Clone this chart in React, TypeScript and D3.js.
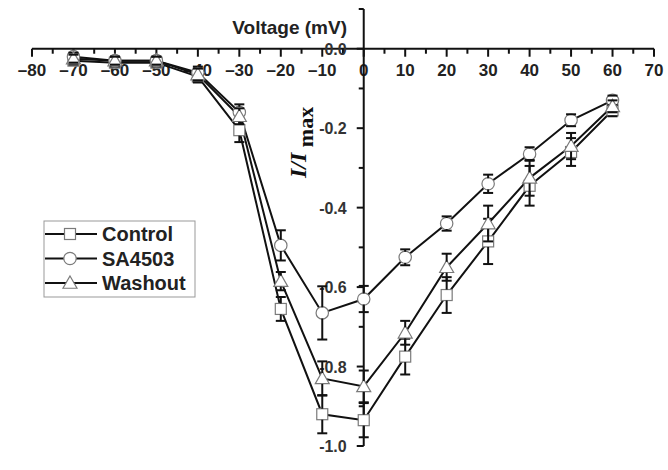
import React from "react";
import * as d3 from "d3";

const voltages = [-70, -60, -50, -40, -30, -20, -10, 0, 10, 20, 30, 40, 50, 60];
const controlVals = [-0.03, -0.035, -0.035, -0.07, -0.205, -0.655, -0.92, -0.935, -0.775, -0.62, -0.485, -0.345, -0.26, -0.155];
const sa4503Vals = [-0.02, -0.03, -0.03, -0.06, -0.16, -0.495, -0.665, -0.63, -0.525, -0.44, -0.34, -0.265, -0.18, -0.13];
const washoutVals = [-0.025, -0.03, -0.03, -0.065, -0.17, -0.585, -0.83, -0.85, -0.715, -0.55, -0.44, -0.325, -0.245, -0.145];
const controlErr = [0.01, 0.01, 0.01, 0.015, 0.03, 0.03, 0.048, 0.043, 0.045, 0.045, 0.057, 0.05, 0.035, 0.015];
const sa4503Err = [0.01, 0.01, 0.01, 0.015, 0.02, 0.038, 0.067, 0.033, 0.02, 0.018, 0.023, 0.017, 0.015, 0.012];
const washoutErr = [0.01, 0.01, 0.01, 0.015, 0.02, 0.023, 0.043, 0.04, 0.03, 0.034, 0.045, 0.045, 0.033, 0.015];
const seriesNames = ["Control", "SA4503", "Washout"];
const xTickLabels = [-80, -70, -60, -50, -40, -30, -20, -10, 0, 10, 20, 30, 40, 50, 60, 70];
const yTickLabels = [0, -0.2, -0.4, -0.6, -0.8, -1.0];

const W = 668, H = 470;
const x = d3.scaleLinear().domain([-80, 70]).range([32, 654]);
const y = d3.scaleLinear().domain([0.1, -1.0]).range([9, 446]);

const sans = "'Liberation Sans', Arial, sans-serif";
const HALF = 5.5;

function Marker({ kind, cx, cy }: { kind: string; cx: number; cy: number }) {
  const st = { fill: "#fff", stroke: "#7a7a7a", strokeWidth: 1.2 };
  if (kind === "square") return <rect x={cx - 5.5} y={cy - 5.5} width={11} height={11} {...st} />;
  if (kind === "circle") return <circle cx={cx} cy={cy} r={6.2} {...st} />;
  const s = 7;
  return <path d={`M${cx},${cy - s}L${cx + s},${cy + s * 0.75}L${cx - s},${cy + s * 0.75}Z`} {...st} />;
}

export default function App() {
  const series = [
    { name: seriesNames[0], vals: controlVals, err: controlErr, kind: "square" },
    { name: seriesNames[1], vals: sa4503Vals, err: sa4503Err, kind: "circle" },
    { name: seriesNames[2], vals: washoutVals, err: washoutErr, kind: "triangle" },
  ];
  const line = d3.line<number>().x((_, i) => x(voltages[i])).y((d) => y(d));
  const y0 = y(0);
  const x0 = x(0);
  const minorX = d3.range(-80, 71, 5);
  const minorY = d3.range(0.1, -1.01, -0.1).map((v) => Math.round(v * 10) / 10);

  return (
    <svg width={W} height={H} style={{ position: "absolute", left: 0, top: 0, background: "#fff" }}>
      {/* X axis */}
      <line x1={x(-80)} x2={x(70)} y1={y0} y2={y0} stroke="#111" strokeWidth={2} />
      {minorX.map((v) => (
        <line key={"xt" + v} x1={x(v)} x2={x(v)} y1={y0} y2={y0 + (v % 10 === 0 ? 8 : 5)} stroke="#111" strokeWidth={2} />
      ))}
      {xTickLabels.map((v) => (
        <text key={"xl" + v} x={x(v)} y={y0 + 27} textAnchor="middle" fontFamily={sans} fontWeight="bold" fontSize={17} fill="#222">
          {v < 0 ? "\u2013" + Math.abs(v) : String(v)}
        </text>
      ))}
      <text x={347} y={34} textAnchor="end" fontFamily={sans} fontWeight="bold" fontSize={19} fill="#222">Voltage (mV)</text>

      {/* Y axis */}
      <line x1={x0} x2={x0} y1={y(0.1)} y2={y(-1.0)} stroke="#111" strokeWidth={2} />
      {minorY.map((v) => {
        const major = Math.abs(Math.round(v * 10)) % 2 === 0;
        return <line key={"yt" + v} x1={x0} x2={x0 - (major ? 7 : 5)} y1={y(v)} y2={y(v)} stroke="#111" strokeWidth={2} />;
      })}
      {yTickLabels.map((v) => (
        <text key={"yl" + v} x={x0 - 17} y={y(v) + 6} textAnchor="end" fontFamily={sans} fontWeight="bold" fontSize={16} fill="#333">
          {v === 0 ? "0.0" : "-" + Math.abs(v).toFixed(1)}
        </text>
      ))}
      <text transform={`translate(306,178) rotate(-90)`} fontFamily="'Liberation Serif', 'DejaVu Serif', serif" fontWeight="bold" fontSize={24} fill="#111">
        <tspan fontStyle="italic">I/I</tspan>
        <tspan dy={7} fontSize={22}> max</tspan>
      </text>

      {/* Lines */}
      {series.map((s) => (
        <path key={"ln" + s.name} d={line(s.vals) || ""} fill="none" stroke="#111" strokeWidth={2} />
      ))}
      {/* Markers + error bars, series by series */}
      {series.map((s) => (
        <g key={"ser" + s.name}>
          {s.vals.map((v, i) => <Marker key={"mk" + i} kind={s.kind} cx={x(voltages[i])} cy={y(v)} />)}
          {s.vals.map((v, i) => {
            const cx = x(voltages[i]);
            const cy = y(v);
            const t = y(v + s.err[i]);
            const b = y(v - s.err[i]);
            return (
              <g key={"eb" + i} stroke="#111" strokeWidth={2}>
                {t < cy - HALF && <line x1={cx} x2={cx} y1={t} y2={cy - HALF} />}
                {b > cy + HALF && <line x1={cx} x2={cx} y1={cy + HALF} y2={b} />}
                <line x1={cx - 5} x2={cx + 5} y1={t} y2={t} />
                <line x1={cx - 5} x2={cx + 5} y1={b} y2={b} />
              </g>
            );
          })}
        </g>
      ))}

      {/* Legend */}
      <rect x={44} y={221} width={151} height={76} fill="#fff" stroke="#999" strokeWidth={1} />
      {series.map((s, i) => {
        const ly = 234 + i * 24.5;
        return (
          <g key={"lg" + s.name}>
            <line x1={45} x2={97} y1={ly} y2={ly} stroke="#111" strokeWidth={2} />
            <Marker kind={s.kind} cx={70} cy={ly} />
            <text x={102} y={ly + 7} fontFamily={sans} fontWeight="bold" fontSize={20} fill="#222">{s.name}</text>
          </g>
        );
      })}
    </svg>
  );
}
